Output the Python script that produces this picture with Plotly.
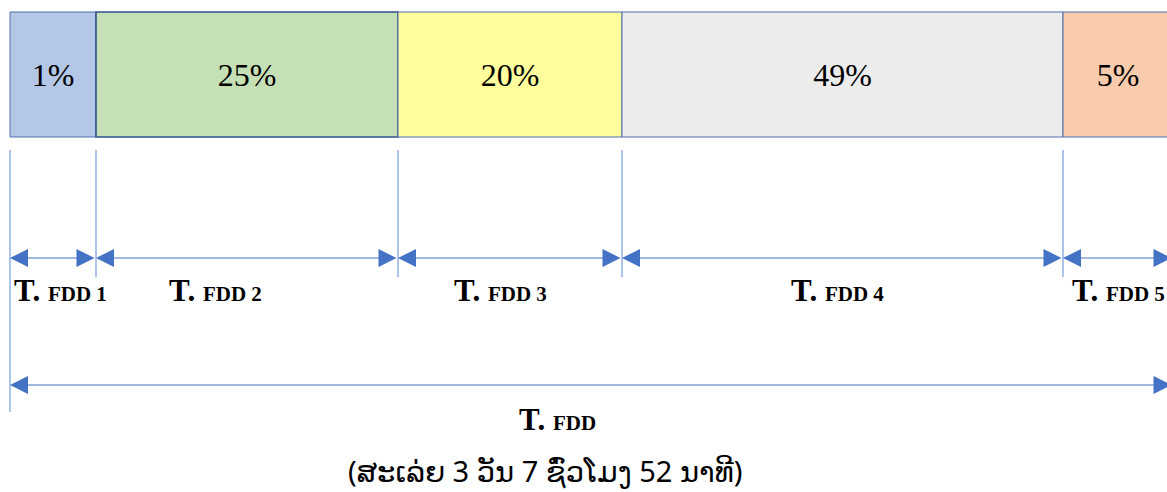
import plotly.graph_objects as go

# phases of the FDD period
phases = ["FDD 1", "FDD 2", "FDD 3", "FDD 4", "FDD 5"]
shares = [1, 25, 20, 49, 5]            # percent shown in each block
spans = [86, 302, 224, 441, 110]       # drawn length of each block (not to scale)
fill_colors = ["#b4c7e7", "#c5e0b4", "#fffd9c", "#ececec", "#f8cbad"]
total_label = "FDD"
note = "(ສະເລ່ຍ 3 ວັນ 7 ຊົ່ວໂມງ 52 ນາທີ)"

starts = []
acc = 0
for s in spans:
    starts.append(acc)
    acc += s
total = acc

BLUE = "#4472c4"
SERIF = "Liberation Serif, Times New Roman, serif"

fig = go.Figure()

fig.add_trace(go.Bar(
    x=spans, base=starts, y=[74.5] * len(spans), orientation="h", width=125,
    marker=dict(color=fill_colors,
                line=dict(color=["#4f6fad", "#2f528f", "#4f6fad", "#4f6fad", "#4f6fad"],
                          width=[1, 1.6, 1, 1, 1])),
    text=[f"{s}%" for s in shares], textposition="inside", insidetextanchor="middle",
    textangle=0, textfont=dict(family=SERIF, size=32, color="black"),
    hoverinfo="skip", showlegend=False,
))

# boundary guide lines
for i, st in enumerate(starts):
    fig.add_shape(type="line", xref="x", yref="y", x0=st, x1=st,
                  y0=150, y1=412 if i == 0 else 277,
                  line=dict(color="#5b8ad6", width=1))

arrow = dict(xref="x", yref="y", axref="x", ayref="y", text="", showarrow=True,
             arrowside="end+start", arrowhead=2, startarrowhead=2,
             arrowsize=3, startarrowsize=3, arrowwidth=1.2, arrowcolor=BLUE,
             standoff=0, startstandoff=0)

label_nudge = [7, -32, -10, -5, 0]
for i, name in enumerate(phases):
    fig.add_annotation(x=starts[i], ax=starts[i] + spans[i], y=258, ay=258, **arrow)
    fig.add_annotation(
        x=starts[i] + spans[i] / 2 + label_nudge[i], y=290, xref="x", yref="y",
        text=f"<b>T. <span style='font-size:21px'>{name}</span></b>",
        showarrow=False, font=dict(family=SERIF, size=31, color="black"),
    )

fig.add_annotation(x=0, ax=total, y=385, ay=385, **arrow)
fig.add_annotation(x=547, y=419, xref="x", yref="y",
                   text=f"<b>T. <span style='font-size:21px'>{total_label}</span></b>",
                   showarrow=False, font=dict(family=SERIF, size=31, color="black"))
fig.add_annotation(x=535, y=470, xref="x", yref="y", text=note, showarrow=False,
                   font=dict(family="Noto Sans, DejaVu Sans, sans-serif", size=29, color="black"))

fig.update_xaxes(range=[-10, 1157], visible=False, fixedrange=True)
fig.update_yaxes(range=[492, 0], visible=False, fixedrange=True)
fig.update_layout(width=1167, height=492, margin=dict(l=0, r=0, t=0, b=0),
                  plot_bgcolor="white", paper_bgcolor="white", showlegend=False)

# drop the default page margin so the figure fills the window
fig.write_html("out.html", config={"displayModeBar": False},
               post_script="document.body.style.margin='0';document.body.style.overflow='hidden';")
